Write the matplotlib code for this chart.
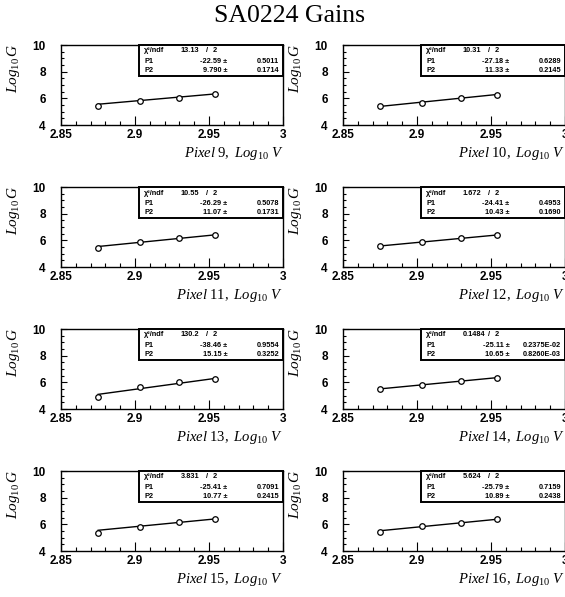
import matplotlib
matplotlib.use("Agg")
import matplotlib.pyplot as plt
import numpy as np
from matplotlib.ticker import MultipleLocator, FixedLocator

plt.rcParams['mathtext.fontset'] = 'custom'
plt.rcParams['mathtext.it'] = 'Liberation Serif:italic'
plt.rcParams['mathtext.rm'] = 'Liberation Serif'

title = "SA0224 Gains"
pixels = [9, 10, 11, 12, 13, 14, 15, 16]
log_v = [2.8751, 2.9031, 2.9294, 2.9542]
log_g_9 = [5.40, 5.80, 6.06, 6.30]
log_g_10 = [5.43, 5.68, 6.00, 6.28]
log_g_11 = [5.45, 5.88, 6.17, 6.40]
log_g_12 = [5.55, 5.88, 6.15, 6.40]
log_g_13 = [4.92, 5.65, 6.02, 6.28]
log_g_14 = [5.51, 5.81, 6.09, 6.35]
log_g_15 = [5.33, 5.82, 6.15, 6.38]
log_g_16 = [5.43, 5.84, 6.12, 6.38]
chi2 = ["13.13", "10.31", "10.55", "1.672", "130.2", "0.1484", "3.831", "5.624"]
ndf = ["2"] * 8
p1 = ["-22.59", "-27.18", "-26.29", "-24.41", "-38.46", "-25.11", "-25.41", "-25.79"]
p1_err = ["0.5011", "0.6289", "0.5078", "0.4953", "0.9554", "0.2375E-02", "0.7091", "0.7159"]
p2 = ["9.790", "11.33", "11.07", "10.43", "15.15", "10.65", "10.77", "10.89"]
p2_err = ["0.1714", "0.2145", "0.1731", "0.1690", "0.3252", "0.8260E-03", "0.2415", "0.2438"]
gains = [log_g_9, log_g_10, log_g_11, log_g_12, log_g_13, log_g_14, log_g_15, log_g_16]

W, H = 565, 597
fig = plt.figure(figsize=(W / 100, H / 100), dpi=100)
fig.text(289 / W, 1 - 16 / H, title, ha='center', va='center',
         family='Liberation Serif', fontsize=18.5)

col_left = [61, 343]
row_top = [45, 187, 329, 471]
aw, ah = 222, 80
tickfont = dict(family='Liberation Sans', weight='bold', size=8.5)
boxfont = dict(family='Liberation Sans', weight='bold', size=5.3)

for i, pix in enumerate(pixels):
    r, c = divmod(i, 2)
    left = col_left[c] / W
    bottom = 1 - (row_top[r] + ah) / H
    ax = fig.add_axes([left, bottom, aw / W, ah / H])
    ax.set_xlim(2.85, 3.0)
    ax.set_ylim(4, 10)
    xs = np.array(log_v)
    a, b = float(p1[i]), float(p2[i])
    xl = np.array([xs.min(), xs.max()])
    ax.plot(xl, a + b * xl, color='black', lw=1.0, zorder=2)
    ax.plot(xs, gains[i], 'o', mfc='white', mec='black', ms=4, mew=0.9, zorder=3)

    ax.xaxis.set_minor_locator(MultipleLocator(0.01))
    ax.yaxis.set_minor_locator(MultipleLocator(0.5))
    ax.set_xticks([2.85, 2.9, 2.95, 3.0])
    ax.set_xticklabels(['2.85', '2.9', '2.95', '3'], **tickfont)
    ax.set_yticks([4, 6, 8, 10])
    ax.set_yticklabels(['4', '6', '8', '10'], **tickfont)
    ax.tick_params(which='both', direction='in', top=False, right=False)
    ax.tick_params(axis='x', which='major', length=6.5, width=0.8, pad=3)
    ax.tick_params(axis='x', which='minor', length=3, width=0.8)
    ax.tick_params(axis='y', which='major', length=4.5, width=0.8, pad=11)
    ax.tick_params(axis='y', which='minor', length=2.2, width=0.8)
    for s in ax.spines.values():
        s.set_linewidth(1.0)

    ax.set_ylabel(r'$Log_{10}\,G$', fontsize=11)
    ax.yaxis.set_label_coords(-0.176, 1.02)
    ax.yaxis.label.set_ha('right')
    ax.text(1.0, -0.35, r'$Pixel\ %d,\ Log_{10}\ V$' % pix, transform=ax.transAxes,
            ha='right', va='center', fontsize=10.5, clip_on=False)

    # stats box
    bx0, by0 = 0.351, 0.617
    rect = plt.Rectangle((bx0, by0), 1 - bx0, 1 - by0, transform=ax.transAxes,
                         fill=True, facecolor='white', edgecolor='black', lw=1.4,
                         zorder=4, clip_on=False)
    ax.add_patch(rect)
    rows_y = [0.925, 0.79, 0.685]
    ax.text(0.374, rows_y[0], '\u03c7\u00b2/ndf', transform=ax.transAxes, ha='left',
            va='center', zorder=5, **boxfont)
    ax.text(0.54, rows_y[0], chi2[i], transform=ax.transAxes, ha='left',
            va='center', zorder=5, **boxfont)
    ax.text(0.657, rows_y[0], '/', transform=ax.transAxes, ha='center',
            va='center', zorder=5, **boxfont)
    ax.text(0.694, rows_y[0], ndf[i], transform=ax.transAxes, ha='center',
            va='center', zorder=5, **boxfont)
    for j, (nm, v, e) in enumerate([("P1", p1[i], p1_err[i]), ("P2", p2[i], p2_err[i])]):
        y = rows_y[j + 1]
        ax.text(0.374, y, nm, transform=ax.transAxes, ha='left', va='center',
                zorder=5, **boxfont)
        ax.text(0.75, y, v + ' \u00b1', transform=ax.transAxes, ha='right',
                va='center', zorder=5, **boxfont)
        ax.text(0.982, y, e, transform=ax.transAxes, ha='right', va='center',
                zorder=5, **boxfont)

fig.savefig('out.png', dpi=100)
